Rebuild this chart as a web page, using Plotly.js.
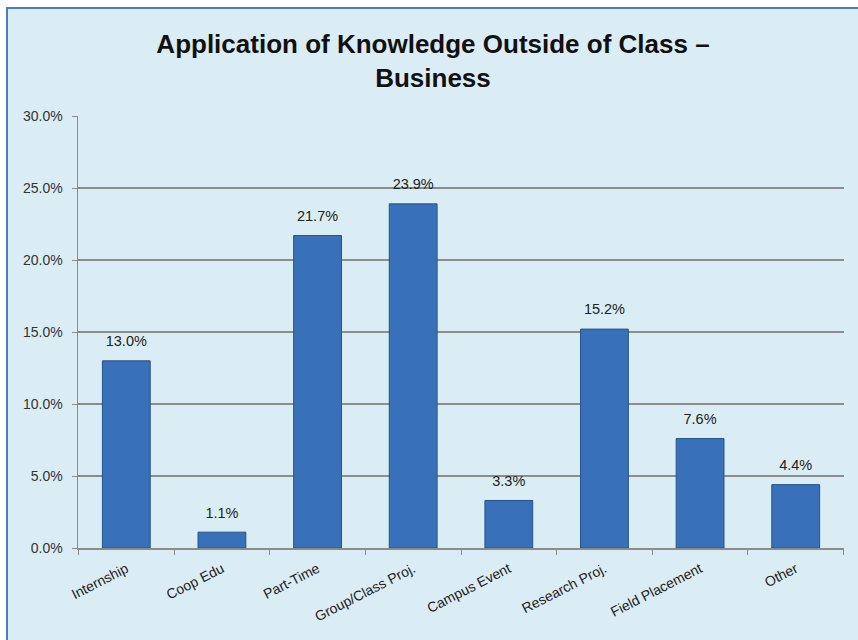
<!DOCTYPE html>
<html>
<head>
<meta charset="utf-8">
<script src="https://cdn.plot.ly/plotly-3.0.1.min.js"></script>
<style>
  html, body { margin: 0; padding: 0; background: #ffffff; width: 858px; height: 640px; overflow: hidden; }
  #wrap { position: absolute; left: 6px; top: 7px; width: 852px; height: 633px;
          border-left: 2px solid #4a7ebb; border-top: 2px solid #4a7ebb; background: #dbedf4; }
  #chart { width: 850px; height: 631px; }
</style>
</head>
<body>
<div id="wrap"><div id="chart"></div></div>
<script>
const categories = ["Internship", "Coop Edu", "Part-Time", "Group/Class Proj.", "Campus Event", "Research Proj.", "Field Placement", "Other"];
const values = [13.0, 1.1, 21.7, 23.9, 3.3, 15.2, 7.6, 4.4];
const yTicks = [0, 5, 10, 15, 20, 25, 30];
const yTickLabels = ["0.0%", "5.0%", "10.0%", "15.0%", "20.0%", "25.0%", "30.0%"];

const FONT = "Liberation Sans, Arial, sans-serif";

const bars = {
  type: "bar",
  x: categories,
  y: values,
  marker: { color: "#3870ba", line: { color: "#22538c", width: 1 } },
  hoverinfo: "none"
};

const labels = {
  type: "scatter",
  mode: "markers+text",
  x: categories,
  y: values,
  marker: { size: 16, opacity: 0 },
  text: values.map(v => v.toFixed(1) + "%"),
  textposition: "top center",
  cliponaxis: false,
  textfont: { family: FONT, size: 14.5, color: "#222222" },
  hoverinfo: "none"
};

const layout = {
  width: 850, height: 631,
  paper_bgcolor: "#dbedf4",
  plot_bgcolor: "#dbedf4",
  margin: { l: 70, r: 14, t: 107, b: 92 },
  bargap: 0.5,
  showlegend: false,
  font: { family: FONT, color: "#333333" },
  title: {
    text: "Application of Knowledge Outside of Class –<br>Business",
    font: { family: FONT, size: 26, color: "#111111", weight: "bold" },
    x: 0.5, xref: "container", xanchor: "center",
    y: 1 - 44 / 631, yref: "container", yanchor: "top"
  },
  xaxis: {
    type: "category",
    tickangle: -27,
    tickson: "boundaries",
    ticks: "outside", ticklen: 5, tickcolor: "#8c8c8c",
    ticklabelstandoff: 6,
    showline: true, linecolor: "#8c8c8c", linewidth: 1.5,
    showgrid: false,
    tickfont: { size: 14, color: "#222222" },
    fixedrange: true
  },
  yaxis: {
    range: [0, 30],
    tickvals: yTicks,
    ticktext: yTickLabels,
    ticks: "outside", ticklen: 5, tickcolor: "#8c8c8c",
    ticklabelstandoff: 6,
    showline: true, linecolor: "#8c8c8c", linewidth: 1.5,
    showgrid: true, gridcolor: "#8c8c8c", gridwidth: 1.5,
    zeroline: false,
    tickfont: { size: 14, color: "#333333" },
    fixedrange: true
  }
};

Plotly.newPlot("chart", [bars, labels], layout, { displayModeBar: false, staticPlot: true });
</script>
</body>
</html>
